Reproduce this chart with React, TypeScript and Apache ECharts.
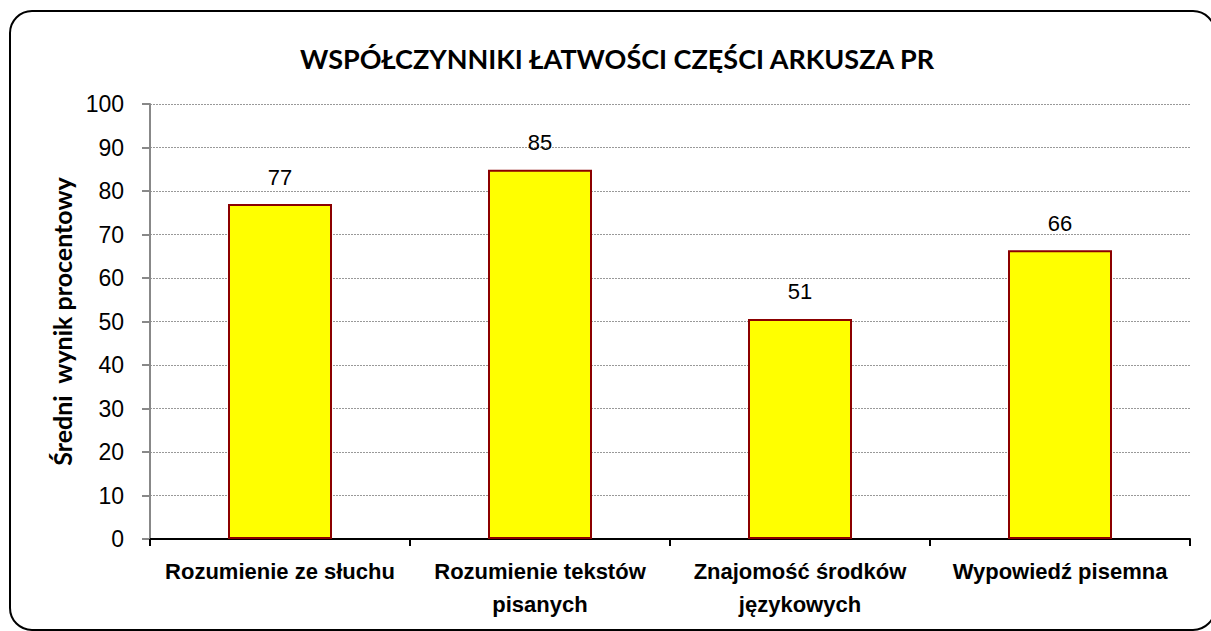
import React, { useEffect, useRef } from "react";
import * as echarts from "echarts";

const titleText = "WSPÓŁCZYNNIKI ŁATWOŚCI CZĘŚCI ARKUSZA PR";
const yAxisTitle = "Średni  wynik procentowy";
const categories = [
  "Rozumienie ze słuchu",
  "Rozumienie tekstów\npisanych",
  "Znajomość środków\njęzykowych",
  "Wypowiedź pisemna",
];
const values = [77, 84.9, 50.6, 66.4];
const yMin = 0;
const yMax = 100;
const yInterval = 10;

export default function App() {
  const ref = useRef<HTMLDivElement>(null);
  useEffect(() => {
    if (!ref.current) return;
    const chart = echarts.init(ref.current, null, { renderer: "svg" });
    chart.setOption({
      animation: false,
      backgroundColor: "#ffffff",
      title: {
        text: titleText,
        left: 612,
        top: 40,
        textAlign: "center",
        textStyle: {
          fontFamily: "Lato, 'Open Sans', sans-serif",
          fontWeight: "bold",
          fontSize: 27,
          color: "#000",
        },
      },
      graphic: [
        {
          type: "rect",
          shape: { x: 10, y: 11, width: 1205, height: 619, r: 22 },
          style: { fill: "none", stroke: "#000", lineWidth: 2 },
          z: 100,
          silent: true,
        },
      ],
      grid: { left: 150, right: 21, top: 104, bottom: 92, containLabel: false },
      xAxis: {
        type: "category",
        data: categories,
        axisLine: { show: true, lineStyle: { color: "#000", width: 2 } },
        axisTick: { show: true, length: 7, lineStyle: { color: "#000", width: 2 } },
        axisLabel: {
          margin: 16,
          interval: 0,
          fontFamily: "'Liberation Sans', Arial, sans-serif",
          fontWeight: "bold",
          fontSize: 22,
          lineHeight: 33,
          color: "#000",
        },
        splitLine: { show: false },
      },
      yAxis: {
        type: "value",
        min: yMin,
        max: yMax,
        interval: yInterval,
        name: yAxisTitle,
        nameLocation: "middle",
        nameGap: 76,
        nameRotate: 90,
        nameTextStyle: {
          fontFamily: "Lato, 'Open Sans', sans-serif",
          fontWeight: "bold",
          fontSize: 25,
          color: "#000",
        },
        axisLine: { show: true, lineStyle: { color: "#888", width: 2 } },
        axisTick: { show: true, length: 8, lineStyle: { color: "#888", width: 2 } },
        axisLabel: {
          margin: 26,
          fontFamily: "'Liberation Sans', Arial, sans-serif",
          fontSize: 23,
          color: "#000",
        },
        splitLine: {
          show: true,
          lineStyle: { color: "#999", width: 1, type: [2, 1] },
        },
      },
      series: [
        {
          type: "bar",
          data: values,
          barWidth: "40%",
          itemStyle: { color: "#FFFF00", borderColor: "#8B0000", borderWidth: 2 },
          label: {
            show: true,
            position: "top",
            distance: 16,
            formatter: (p: any) => String(Math.round(p.value)),
            fontFamily: "'Liberation Sans', Arial, sans-serif",
            fontSize: 22,
            color: "#000",
          },
        },
      ],
    });
    return () => chart.dispose();
  }, []);
  return (
    <div
      ref={ref}
      style={{ position: "absolute", left: 0, top: 0, width: 1211, height: 631 }}
    />
  );
}
